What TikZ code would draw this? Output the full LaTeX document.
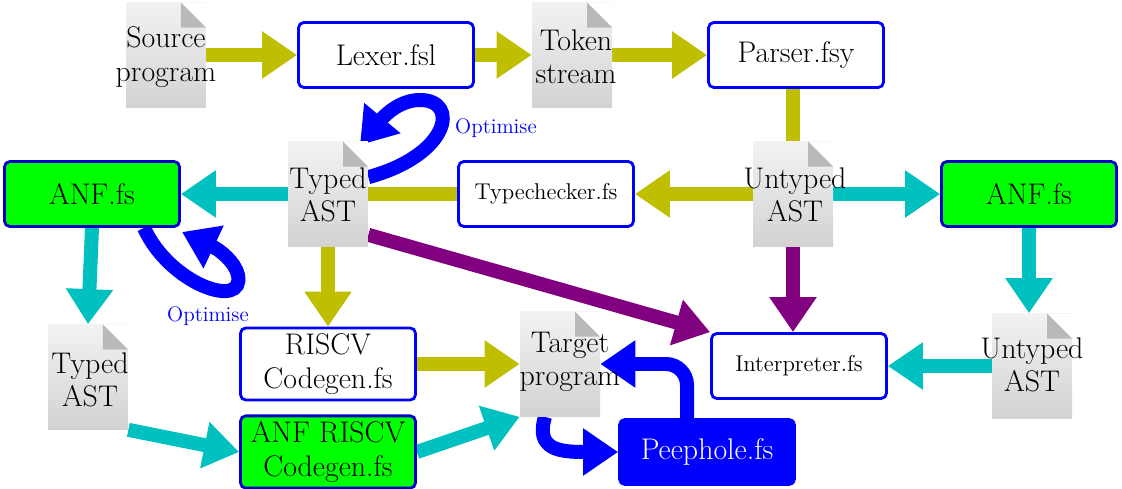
\documentclass[tikz,border=0pt]{standalone}
\usetikzlibrary{arrows.meta,backgrounds}
\definecolor{olive}{RGB}{192,190,0}
\definecolor{teal}{RGB}{0,192,192}
\definecolor{plum}{RGB}{128,0,128}
\tikzset{
  box/.style={draw=blue, line width=1.6pt, rounded corners=3pt, fill=white,
    minimum width=3.5cm, minimum height=1.3cm, align=center,
    font=\fontsize{17}{19}\selectfont},
  anf/.style={box, fill=green, draw=blue!80!black},
  small/.style={font=\fontsize{13}{15}\selectfont},
  doc/.style={minimum width=1.6cm, minimum height=2.1cm, inner sep=0pt,
    top color=gray!10, bottom color=gray!35,
    path picture={
      \fill[white] (path picture bounding box.north east) ++(-0.5cm,0) -- ++(0.5cm,0) -- ++(0,-0.5cm) -- cycle;
      \fill[gray!55] (path picture bounding box.north east) ++(-0.5cm,0) -- ++(0,-0.5cm) -- ++(0.5cm,0) -- cycle;
    }},
  doctext/.style={align=center, inner sep=0pt, font=\fontsize{17}{19}\selectfont},
  flow/.style={line width=0.28cm, -{Triangle[length=0.7cm,width=0.9cm]}},
  plain/.style={line width=0.28cm},
}
\begin{document}
\begin{tikzpicture}[x=0.02cm, y=-0.02cm]
\useasboundingbox (0,0) rectangle (1122,489);

% documents
\node[doc] (src) at (166,55) {};
\node[doc] (tok) at (572,55) {};
\node[doc] (utast) at (793,194) {};
\node[doc] (tast) at (328,194) {};
\node[doc] (tast2) at (88,377) {};
\node[doc] (target) at (560,364) {};
\node[doc] (utast2) at (1032,366) {};

% boxes
\node[box] (lexer) at (386,55) {Lexer.fsl};
\node[box] (parser) at (796,55) {Parser.fsy};
\node[box, small] (tc) at (546,194) {Typechecker.fs};
\node[anf] (anfl) at (92,194) {ANF.fs};
\node[anf] (anfr) at (1029,194) {ANF.fs};
\node[box, fill=none] (riscv) at (328,364) {RISCV\\Codegen.fs};
\node[anf] (anfriscv) at (328,452) {ANF RISCV\\Codegen.fs};
\node[box, small] (interp) at (799,366) {Interpreter.fs};
\node[box, fill=blue, text=white] (peep) at (707,452) {Peephole.fs};

\coordinate (opt1) at (360,145);
\coordinate (opt2) at (182,232);

% connectors
\begin{scope}[on background layer]
\draw[flow, olive] (src.east) -- (lexer.west);
\draw[flow, olive] (lexer.east) -- (tok.west);
\draw[flow, olive] (tok.east) -- (parser.west);
\draw[plain, olive] (parser.south -| utast.north) -- (utast.north);
\draw[flow, olive] (utast.west) -- (tc.east);
\draw[plain, olive] (tc.west) -- (tast.east);
\draw[flow, olive] (tast.south) -- (riscv.north);
\draw[flow, olive] (riscv.east) -- (target.west |- riscv.east);
\draw[flow, teal] (tast.west) -- (anfl.east);
\draw[flow, teal] (utast.east) -- (anfr.west);
\draw[flow, teal] (anfr.south) -- (utast2.north -| anfr.south);
\draw[flow, teal] (utast2.west) -- (interp.east);
\draw[flow, teal] (anfl.south) -- (tast2.north);
\draw[flow, teal] (tast2.south east) -- (anfriscv.west);
\draw[flow, teal] (anfriscv.east) -- (target.south west);
\draw[flow, plum] (tast.south east) ++(0,-12) -- (interp.north west);
\draw[flow, plum] (utast.south) -- (interp.north -| utast.south);
\draw[flow, blue] (tast.north east) ++(0,36) .. controls (450,155) and (460,100) .. (420,100)
  .. controls (400,100) and (385,115) .. (opt1);
\draw[flow, blue] (anfl.south) ++(52,0) .. controls (170,285) and (245,310) .. (238,275)
  .. controls (235,262) and (220,250) .. (opt2);
\draw[flow, blue] (target.south) ++(-15,0) .. controls (535,450) and (560,452) .. (peep.west);
\draw[flow, blue, rounded corners=12pt] (peep.north) ++(-20,0) |- (target.east);
\end{scope}

% labels
\node[doctext] (src-t) at (166,57) {Source\\program};
\node[doctext] (tok-t) at (576,57) {Token\\stream};
\node[doctext] (utast-t) at (795,195) {Untyped\\AST};
\node[doctext] (tast-t) at (328,195) {Typed\\AST};
\node[doctext] (tast2-t) at (90,380) {Typed\\AST};
\node[doctext] (target-t) at (570,362) {Target\\program};
\node[doctext] (utast2-t) at (1032,365) {Untyped\\AST};
\node[blue, font=\fontsize{12}{12}\selectfont] (opt1-t) at (496,128) {Optimise};
\node[blue, font=\fontsize{12}{12}\selectfont] (opt2-t) at (208,316) {Optimise};
\end{tikzpicture}
\end{document}
